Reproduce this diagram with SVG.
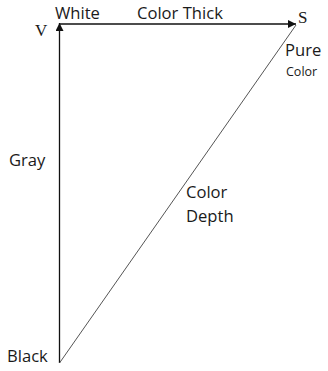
<svg xmlns="http://www.w3.org/2000/svg" width="328" height="371" viewBox="0 0 328 371">
<style>
.t{font-family:"Open Sans","Liberation Sans",sans-serif;fill:#1a1a1a;font-size:16.6px}
.s{font-family:"Liberation Serif",serif;fill:#1a1a1a}
.ln{stroke:#111;stroke-width:1.3;fill:none}
</style>
<defs>
<marker id="ah" viewBox="0 0 10 10" refX="10" refY="5" markerWidth="8" markerHeight="8" markerUnits="userSpaceOnUse" orient="auto">
<path d="M0,0 L10,5 L0,10 z" fill="#111"/>
</marker>
</defs>
<rect width="328" height="371" fill="#fff"/>
<g id="connectors">
<line class="ln" x1="59.5" y1="363" x2="59.5" y2="23" marker-end="url(#ah)"/>
<line class="ln" x1="59.5" y1="24" x2="296" y2="24" marker-end="url(#ah)"/>
<line x1="59.5" y1="363" x2="296" y2="25" stroke="#555" stroke-width="1"/>
</g>
<g id="white"><text class="t" x="55" y="19">White</text></g>
<g id="colorthick"><text class="t" x="137" y="19">Color Thick</text></g>
<g id="v"><text class="s" x="35" y="36" font-size="17">V</text></g>
<g id="s"><text class="s" x="298" y="23" font-size="17">S</text></g>
<g id="pure"><text class="t" x="285" y="56">Pure</text><text class="t" x="286" y="76" style="font-size:12.5px">Color</text></g>
<g id="gray"><text class="t" x="9" y="166">Gray</text></g>
<g id="depth"><text class="t" x="186" y="198">Color</text><text class="t" x="186" y="222">Depth</text></g>
<g id="black"><text class="t" x="7" y="362">Black</text></g>
</svg>
